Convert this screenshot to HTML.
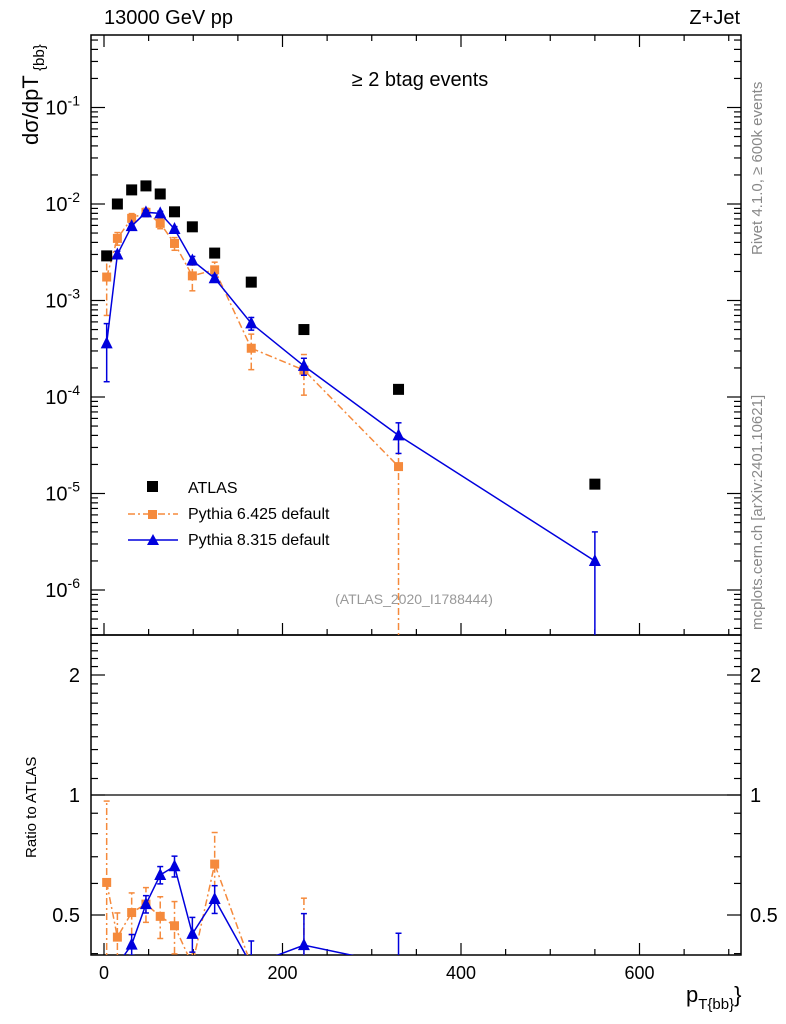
<!DOCTYPE html>
<html><head><meta charset="utf-8"><style>
html,body{margin:0;background:#fff;width:786px;height:1024px;overflow:hidden;}
svg{display:block;font-family:"Liberation Sans",sans-serif;}
</style></head><body>
<svg id="c" width="786" height="1024" xmlns="http://www.w3.org/2000/svg">
<defs>
<clipPath id="mainClip"><rect x="91" y="35" width="650" height="600"/></clipPath>
<clipPath id="ratioClip"><rect x="91" y="635" width="650" height="320"/></clipPath>
</defs>
<g id="axes"></g>
<g id="marks"></g>
<text x="104" y="24" font-size="20">13000 GeV pp</text>
<text x="740" y="24" font-size="20" text-anchor="end">Z+Jet</text>
<text x="420" y="86" font-size="20" text-anchor="middle">≥ 2 btag events</text>
<text x="414" y="604" font-size="14" fill="#999" text-anchor="middle">(ATLAS_2020_I1788444)</text>
<text transform="translate(762,255) rotate(-90)" font-size="15" fill="#888">Rivet 4.1.0, ≥ 600k events</text>
<text transform="translate(762,630) rotate(-90)" font-size="15" fill="#888">mcplots.cern.ch [arXiv:2401.10621]</text>
<text transform="translate(38,145) rotate(-90)" font-size="22">dσ/dpT<tspan font-size="15" dy="6"> {bb}</tspan></text>
<text transform="translate(36,858) rotate(-90)" font-size="15">Ratio to ATLAS</text>
<text x="686" y="1002" font-size="22">p<tspan font-size="15" dy="7">T{bb}</tspan><tspan dy="-7">}</tspan></text>
<g>
<rect x="147" y="481" width="11" height="11" fill="#000"/>
<text x="188" y="493" font-size="16">ATLAS</text>
<line x1="128" y1="514" x2="178" y2="514" stroke="#f58a3c" stroke-width="1.5" stroke-dasharray="7,3,2,3"/>
<rect x="148" y="510" width="9" height="9" fill="#f58a3c"/>
<text x="188" y="519" font-size="16">Pythia 6.425 default</text>
<line x1="128" y1="540" x2="178" y2="540" stroke="#0000dd" stroke-width="1.5"/>
<polygon points="147,545 159,545 153,534" fill="#0000dd"/>
<text x="188" y="545" font-size="16">Pythia 8.315 default</text>
</g>
</svg>
<script>
const xCenters=[3,15,31,47,63,79,99,124,165,224,330,550];
const atlasVals=[2.9e-3,1.0e-2,1.4e-2,1.54e-2,1.27e-2,8.3e-3,5.8e-3,3.1e-3,1.55e-3,5.0e-4,1.2e-4,1.25e-5];
const p6Vals=[1.75e-3,4.4e-3,7.1e-3,8.2e-3,6.3e-3,3.9e-3,1.8e-3,2.08e-3,3.2e-4,1.9e-4,1.9e-5];
const p6Err=[0.6,0.15,0.12,0.1,0.12,0.15,0.3,0.2,0.4,0.45,1.0];
const p8Vals=[3.6e-4,3.0e-3,5.9e-3,8.2e-3,8.0e-3,5.5e-3,2.6e-3,1.7e-3,5.8e-4,2.1e-4,4.0e-5,2.0e-6];
const p8Err=[0.6,0.08,0.06,0.05,0.05,0.06,0.1,0.08,0.15,0.2,0.35,1.0];
const xTicks=[0,200,400,600];
const yTicks=[-6,-5,-4,-3,-2,-1];
const rTicks=[0.5,1,2];

const NS="http://www.w3.org/2000/svg";
const X=v=>104+v*0.8925;
const Y=v=>204-(Math.log10(v)+2)*96.5;
const R=v=>795-Math.log2(v)*120;
const L=91,Rt=741,T=35,M=635,B=955;
function el(p,t,a){const e=document.createElementNS(NS,t);for(const k in a)e.setAttribute(k,a[k]);p.appendChild(e);return e;}
const ax=document.getElementById('axes'),mk=document.getElementById('marks');
let f=el(ax,'rect',{x:L,y:T,width:Rt-L,height:M-T,fill:'none',stroke:'#000','stroke-width':1.5});


f=el(ax,'rect',{x:L,y:M,width:Rt-L,height:B-M,fill:'none',stroke:'#000','stroke-width':1.5});


for(let v=0;v<=700;v+=50){const big=v%200===0,x=X(v);const h=big?12:6;
 for(const[y0,d] of [[M,-1],[T,1],[B,-1]]){let t=el(ax,'line',{x1:x,x2:x,y1:y0,y2:y0+d*h,stroke:'#000','stroke-width':1.2});}}
xTicks.forEach(v=>{let t=el(ax,'text',{x:X(v),y:979,'font-size':18,'text-anchor':'middle'});t.textContent=v;});
for(let d=-7;d<=0;d++)for(let m=1;m<10;m++){const v=m*Math.pow(10,d);const y=Y(v);if(y<T||y>M)continue;const h=m===1?14:7;
 let t=el(ax,'line',{x1:L,x2:L+h,y1:y,y2:y,stroke:'#000','stroke-width':1.2});
 t=el(ax,'line',{x1:Rt,x2:Rt-h,y1:y,y2:y,stroke:'#000','stroke-width':1.2});}
yTicks.forEach(d=>{let t=el(ax,'text',{x:80,y:Y(Math.pow(10,d))+7,'font-size':20,'text-anchor':'end'});t.innerHTML='10<tspan font-size="14" dy="-9">'+d+'</tspan>';});
for(let v=0.4;v<=2.5;v+=0.1){const y=R(v);if(y<M||y>B)continue;const big=[0.5,1,2].some(k=>Math.abs(k-v)<1e-6);const h=big?14:7;
 let t=el(ax,'line',{x1:L,x2:L+h,y1:y,y2:y,stroke:'#000','stroke-width':1.2});
 t=el(ax,'line',{x1:Rt,x2:Rt-h,y1:y,y2:y,stroke:'#000','stroke-width':1.2});}
rTicks.forEach(v=>{for(const[x,a] of [[80,'end'],[750,'start']]){let t=el(ax,'text',{x:x,y:R(v)+7,'font-size':20,'text-anchor':a});t.textContent=v;}});
let rl=el(ax,'line',{x1:L,x2:Rt,y1:R(1),y2:R(1),stroke:'#000','stroke-width':1.2});



const gm=el(mk,'g',{'clip-path':'url(#mainClip)'});
const gr=el(mk,'g',{'clip-path':'url(#ratioClip)'});
function series(g,fy,vals,errs,col,dash,tri,name,lo0,hi0){
 const cl=y=>Math.max(lo0-10,Math.min(hi0+10,y));
 const pts=vals.map((v,i)=>[X(xCenters[i]),cl(fy(v))]);
 let p=el(g,'polyline',{points:pts.map(p=>p.join(',')).join(' '),fill:'none',stroke:col,'stroke-width':1.5});
 if(dash)p.setAttribute('stroke-dasharray','7,3,2,3');
 
 
 vals.forEach((v,i)=>{const x=pts[i][0];const lo=v*(1-errs[i]);const y1=cl(lo>0?fy(lo):hi0+10),y2=cl(fy(v*(1+errs[i])));
  let e=el(g,'line',{x1:x,x2:x,y1:y1,y2:y2,stroke:col,'stroke-width':1.5});if(dash)e.setAttribute('stroke-dasharray','7,3,2,3');
  
  
  for(const yy of [y1,y2]){let c=el(g,'line',{x1:x-3,x2:x+3,y1:yy,y2:yy,stroke:col,'stroke-width':1.5});}
  let m=tri?el(g,'polygon',{points:`${x-6},${pts[i][1]+5} ${x+6},${pts[i][1]+5} ${x},${pts[i][1]-7}`,fill:col})
          :el(g,'rect',{x:x-4.5,y:pts[i][1]-4.5,width:9,height:9,fill:col});
  
  
 });
}
series(gm,Y,p6Vals,p6Err,'#f58a3c',true,false,'pythia6',T,M);
series(gm,Y,p8Vals,p8Err,'#0000dd',false,true,'pythia8',T,M);
atlasVals.forEach((v,i)=>{let r=el(gm,'rect',{x:X(xCenters[i])-5.5,y:Y(v)-5.5,width:11,height:11,fill:'#000'});});
series(gr,R,p6Vals.map((v,i)=>v/atlasVals[i]),p6Err,'#f58a3c',true,false,'pythia6-ratio',M,B);
series(gr,R,p8Vals.map((v,i)=>v/atlasVals[i]),p8Err,'#0000dd',false,true,'pythia8-ratio',M,B);
</script>
</body></html>
